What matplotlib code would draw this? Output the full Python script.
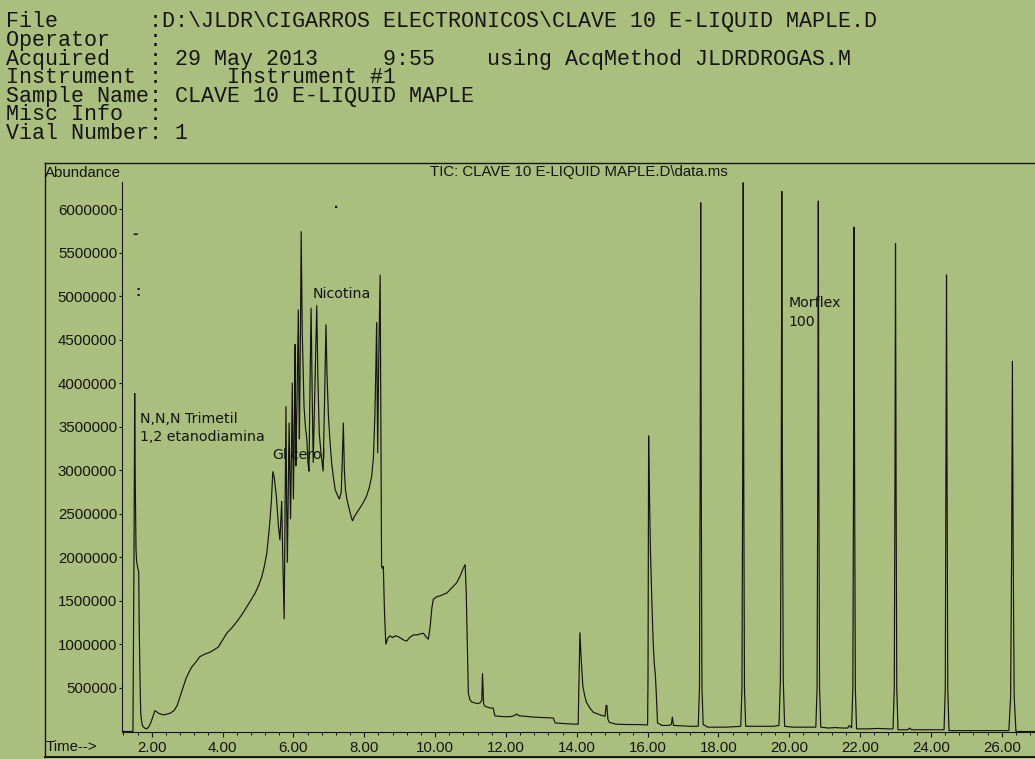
import numpy as np
import matplotlib
matplotlib.use("Agg")
import matplotlib.pyplot as plt
from matplotlib.lines import Line2D
from matplotlib.ticker import MultipleLocator, FixedLocator, FuncFormatter

# ---------------------------------------------------------------------------
# Total ion chromatogram (retention time in min, abundance in millions)
# ---------------------------------------------------------------------------
early_t = [1.16, 1.47, 1.50, 1.52, 1.535, 1.557, 1.575, 1.593, 1.615, 1.633,
           1.65, 1.67, 1.69, 1.72, 1.746, 1.80, 1.86, 1.93, 2.00, 2.05, 2.09,
           2.13, 2.19, 2.26, 2.33, 2.42, 2.52, 2.63, 2.72, 2.80, 2.88, 2.97,
           3.05, 3.13, 3.25, 3.36, 3.50, 3.64, 3.76, 3.88, 4.00, 4.12, 4.26,
           4.40, 4.54, 4.68, 4.80, 4.92, 5.02, 5.11, 5.18, 5.25, 5.30, 5.34,
           5.38, 5.42]
early_a = [0.0, 0.0, 2.0, 3.89, 2.9, 2.09, 1.95, 1.91, 1.86, 1.84,
           1.13, 0.6, 0.21, 0.1, 0.06, 0.04, 0.03, 0.06, 0.13, 0.19, 0.24,
           0.23, 0.21, 0.20, 0.19, 0.20, 0.21, 0.24, 0.30, 0.40, 0.50, 0.61,
           0.68, 0.74, 0.80, 0.86, 0.89, 0.91, 0.94, 0.97, 1.05, 1.13, 1.19,
           1.26, 1.34, 1.43, 1.51, 1.59, 1.68, 1.78, 1.90, 2.05, 2.25, 2.43,
           2.66, 2.99]

cluster_t = [5.46, 5.52, 5.58, 5.62, 5.67, 5.70, 5.74, 5.76, 5.79, 5.81,
             5.83, 5.86, 5.88, 5.90, 5.92, 5.95, 5.97, 5.99, 6.00, 6.03,
             6.05, 6.06, 6.07, 6.11, 6.14, 6.155, 6.17, 6.20, 6.22, 6.25,
             6.30, 6.34, 6.38, 6.41, 6.44, 6.47, 6.50, 6.53, 6.56, 6.61,
             6.66, 6.69, 6.73, 6.78, 6.84, 6.88, 6.92, 6.95, 6.99, 7.04,
             7.08, 7.13, 7.18, 7.24, 7.30, 7.35, 7.38, 7.41, 7.44, 7.47,
             7.51, 7.58, 7.63, 7.67, 7.72, 7.80, 7.88, 7.97, 8.06, 8.14,
             8.21, 8.26, 8.30, 8.33, 8.35, 8.37, 8.38, 8.41, 8.45, 8.47,
             8.49, 8.52, 8.54, 8.57, 8.61]
cluster_a = [2.92, 2.7, 2.35, 2.2, 2.65, 2.0, 1.29, 2.3, 3.74, 2.6,
             1.94, 2.9, 3.55, 3.0, 2.44, 3.3, 4.01, 3.2, 2.67, 3.6,
             4.45, 3.6, 3.05, 4.0, 4.85, 3.9, 3.36, 4.6, 5.75, 4.6,
             3.74, 3.5, 3.36, 3.1, 2.99, 4.0, 4.87, 3.9, 3.09, 4.0,
             4.9, 4.1, 3.43, 3.2, 2.99, 3.8, 4.68, 4.1, 3.62, 3.3,
             3.09, 2.92, 2.78, 2.72, 2.67, 2.75, 3.1, 3.55, 3.0, 2.78,
             2.67, 2.55, 2.47, 2.42, 2.47, 2.52, 2.57, 2.63, 2.7, 2.8,
             2.93, 3.15, 3.62, 4.2, 4.70, 3.7, 3.2, 4.3, 5.25, 3.5,
             1.9, 1.87, 1.9, 1.4, 1.0]

mid_t = [8.66, 8.73, 8.80, 8.88, 8.96, 9.04, 9.12, 9.20, 9.28, 9.39,
         9.48, 9.58, 9.67, 9.74, 9.81, 9.86, 9.91, 9.95, 10.05, 10.15,
         10.25, 10.33, 10.42, 10.52, 10.61, 10.70, 10.78, 10.85, 10.88, 10.91,
         10.94, 10.98, 11.03, 11.12, 11.20, 11.27, 11.32, 11.34, 11.37, 11.41,
         11.48, 11.55, 11.64, 11.69, 11.80, 11.95, 12.12, 12.22, 12.30, 12.38,
         12.54, 12.80, 13.05, 13.34, 13.39, 13.70, 14.04, 14.09, 14.12, 14.17,
         14.22, 14.27, 14.37, 14.47, 14.60, 14.70, 14.80, 14.83, 14.85, 14.88,
         14.92, 15.10, 15.40, 15.70, 15.98]
mid_a = [1.07, 1.10, 1.08, 1.10, 1.09, 1.07, 1.05, 1.04, 1.08, 1.11,
         1.11, 1.12, 1.13, 1.09, 1.06, 1.2, 1.42, 1.52, 1.55, 1.56,
         1.58, 1.59, 1.63, 1.67, 1.71, 1.78, 1.86, 1.92, 1.6, 1.0,
         0.44, 0.37, 0.34, 0.33, 0.32, 0.33, 0.36, 0.67, 0.32, 0.29,
         0.28, 0.27, 0.27, 0.18, 0.175, 0.17, 0.17, 0.18, 0.20, 0.18,
         0.175, 0.165, 0.16, 0.155, 0.098, 0.09, 0.083, 1.14, 0.87, 0.53,
         0.42, 0.34, 0.27, 0.22, 0.20, 0.185, 0.175, 0.30, 0.30, 0.14,
         0.105, 0.085, 0.08, 0.08, 0.075]

late_t = [16.00, 16.012, 16.022, 16.03, 16.045, 16.08, 16.12, 16.16, 16.19, 16.22,
          16.25, 16.28, 16.40, 16.60, 16.67, 16.70, 16.73, 16.95, 17.20,
          17.43, 17.465, 17.485, 17.50, 17.515, 17.535, 17.57,
          17.70, 17.95, 18.20, 18.45,
          18.63, 18.665, 18.685, 18.70, 18.715, 18.735, 18.77,
          19.00, 19.30, 19.55,
          19.71, 19.75, 19.775, 19.79, 19.805, 19.83, 19.87,
          20.10, 20.40,
          20.75, 20.785, 20.805, 20.82, 20.835, 20.855, 20.89,
          21.10, 21.30, 21.50, 21.65, 21.70,
          21.76, 21.795, 21.815, 21.83, 21.845, 21.865, 21.90,
          22.20, 22.50, 22.80,
          22.93, 22.965, 22.985, 23.00, 23.015, 23.035, 23.07,
          23.35, 23.40, 23.45, 23.80, 24.10,
          24.37, 24.405, 24.425, 24.44, 24.455, 24.475, 24.51,
          24.90, 25.30, 25.70,
          26.20, 26.25, 26.28, 26.30, 26.32, 26.35, 26.40, 26.94]
late_a = [0.075, 0.6, 2.4, 3.40, 2.9, 2.1, 1.5, 1.0, 0.78, 0.65,
          0.40, 0.10, 0.07, 0.07, 0.08, 0.17, 0.07, 0.065, 0.06,
          0.06, 0.5, 3.0, 6.08, 3.0, 0.5, 0.08,
          0.05, 0.05, 0.05, 0.055,
          0.06, 0.5, 3.0, 6.31, 3.0, 0.5, 0.06,
          0.06, 0.06, 0.06,
          0.07, 0.6, 3.2, 6.21, 3.2, 0.6, 0.06,
          0.05, 0.05,
          0.05, 0.5, 3.0, 6.10, 3.0, 0.5, 0.05,
          0.04, 0.045, 0.04, 0.04, 0.07,
          0.04, 0.5, 3.0, 5.80, 3.0, 0.5, 0.03,
          0.03, 0.035, 0.03,
          0.03, 0.5, 3.0, 5.61, 3.0, 0.5, 0.02,
          0.02, 0.04, 0.02, 0.02, 0.02,
          0.02, 0.5, 3.0, 5.25, 3.0, 0.5, 0.01,
          0.01, 0.01, 0.01,
          0.01, 0.4, 2.2, 4.26, 2.2, 0.4, 0.0, 0.0]

y_ticks = [500000, 1000000, 1500000, 2000000, 2500000, 3000000,
           3500000, 4000000, 4500000, 5000000, 5500000, 6000000]
x_ticks = [2, 4, 6, 8, 10, 12, 14, 16, 18, 20, 22, 24, 26]

header_lines = [
    "File       :D:\\JLDR\\CIGARROS ELECTRONICOS\\CLAVE 10 E-LIQUID MAPLE.D",
    "Operator   :",
    "Acquired   : 29 May 2013     9:55    using AcqMethod JLDRDROGAS.M",
    "Instrument :     Instrument #1",
    "Sample Name: CLAVE 10 E-LIQUID MAPLE",
    "Misc Info  :",
    "Vial Number: 1",
]

# peak labels: (text, time, abundance) at the left/centre of each label
peak_labels = [
    ("N,N,N Trimetil", 1.67, 3.59e6),
    ("1,2 etanodiamina", 1.67, 3.385e6),
    ("Glicerol", 5.39, 3.18e6),
    ("Nicotina", 6.55, 5.03e6),
    ("Morflex", 19.99, 4.925e6),
    ("100", 19.99, 4.707e6),
]

# ---------------------------------------------------------------------------
W, H = 1035, 759
PAPER = "#aabf7d"
INK = "#141414"

fig = plt.figure(figsize=(W / 100, H / 100), dpi=100, facecolor=PAPER)


def fx(px):
    return px / W


def fy(py):
    return 1 - py / H


ax = fig.add_axes([fx(122), fy(731.5), 1 - fx(122), fy(182) - fy(731.5)])
ax.set_facecolor("none")

t = np.array(early_t + cluster_t + mid_t + late_t)
a = np.array(early_a + cluster_a + mid_a + late_a) * 1e6
ax.plot(t, a, color=INK, lw=0.85, solid_joinstyle="miter")

ax.set_xlim(1.1615, 26.938)
ax.set_ylim(0, 6.316e6)

for side in ("top", "right"):
    ax.spines[side].set_visible(False)
for side in ("left", "bottom"):
    ax.spines[side].set_color(INK)
    ax.spines[side].set_linewidth(0.8)

tick_font = dict(family="Liberation Sans", size=10.8)
ax.yaxis.set_major_locator(FixedLocator(y_ticks))
ax.yaxis.set_major_formatter(FuncFormatter(lambda v, p: f"{int(round(v))}"))
ax.xaxis.set_major_locator(FixedLocator(x_ticks))
ax.xaxis.set_major_formatter(FuncFormatter(lambda v, p: f"{v:.2f}"))
ax.xaxis.set_minor_locator(MultipleLocator(0.4))
ax.tick_params(axis="y", which="major", direction="out", length=2.5, width=0.8,
               pad=1.0, colors=INK, labelsize=10.8)
ax.tick_params(axis="x", which="major", direction="out", length=3.6, width=0.8,
               pad=3.0, colors=INK, labelsize=10.8)
ax.tick_params(axis="x", which="minor", direction="out", length=2.2, width=0.7,
               colors=INK)
for lab in ax.get_xticklabels() + ax.get_yticklabels():
    lab.set_fontfamily("Liberation Sans")

# outer frame of the report
frame_kw = dict(transform=fig.transFigure, color=INK, lw=1.0)
fig.add_artist(Line2D([fx(45), 1], [fy(163), fy(163)], **frame_kw))
fig.add_artist(Line2D([fx(45), fx(45)], [fy(163), fy(757)], **frame_kw))
fig.add_artist(Line2D([fx(45), 1], [fy(757), fy(757)], color=INK, lw=1.4,
                      transform=fig.transFigure))

fig.text(fx(45), fy(173), "Abundance", ha="left", va="center", color=INK,
         **tick_font)
fig.text(fx(46), fy(747), "Time-->", ha="left", va="center", color=INK,
         **tick_font)
fig.text(fx(430), fy(172), "TIC: CLAVE 10 E-LIQUID MAPLE.D\\data.ms",
         ha="left", va="center", color=INK, **tick_font)

# report header as one monospaced block (anchored on the last baseline)
fig.text(fx(6), fy(139), "\n".join(header_lines), ha="left", va="baseline",
         color=INK, family="Liberation Mono", size=15.6, linespacing=0.85)

# peak labels
for txt, xt, ya in peak_labels:
    ax.text(xt, ya, txt, ha="left", va="center", color=INK,
            family="DejaVu Sans", size=10.2)

# stray print marks near the y axis
ax.text(1.53, 5.72e6, "-", ha="center", va="center", color=INK,
        family="Liberation Sans", size=12, fontweight="bold")
ax.text(1.61, 5.05e6, ":", ha="center", va="center", color=INK,
        family="Liberation Sans", size=11, fontweight="bold")
ax.text(7.2, 6.06e6, ".", ha="center", va="center", color=INK,
        family="Liberation Sans", size=11, fontweight="bold")

fig.savefig("out.png", dpi=100, facecolor=PAPER)
